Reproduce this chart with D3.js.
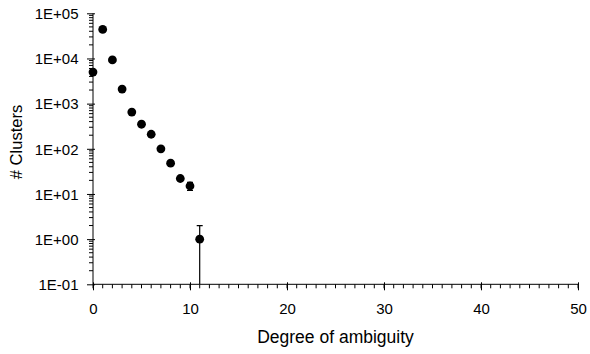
<!DOCTYPE html>
<html>
<head>
<meta charset="utf-8">
<script src="https://cdn.jsdelivr.net/npm/d3@7"></script>
<style>
  html, body { margin: 0; padding: 0; background: #fff; }
  svg { display: block; }
  text { font-family: "Liberation Sans", Arial, sans-serif; fill: #000; }
</style>
</head>
<body>
<svg id="chart" width="590" height="354"></svg>
<script>
// Number of clusters by degree of ambiguity
const degree   = [0, 1, 2, 3, 4, 5, 6, 7, 8, 9, 10, 11];
const clusters = [5000, 44000, 9300, 2100, 650, 350, 210, 100, 48, 22, 15, 1];
const errLow   = [150, 800, 200, 60, 20, 12, 8, 4, 2, 2, 3, 1];
const errHigh  = [150, 800, 200, 60, 20, 12, 8, 4, 2, 2, 3, 1];
const yTickLabels = ["1E-01", "1E+00", "1E+01", "1E+02", "1E+03", "1E+04", "1E+05"];
const xTickValues = [0, 10, 20, 30, 40, 50];

const svg = d3.select("#chart");
const plotL = 93, plotR = 578, plotT = 13.3, plotB = 284.3;

const x = d3.scaleLinear().domain([0, 50]).range([plotL, plotR]);
const y = d3.scaleLog().domain([0.1, 100000]).range([plotB, plotT]);

const g = svg.append("g");

// minor log ticks on the y axis
const minorY = [];
for (let e = -1; e < 5; e++) {
  for (let m = 2; m <= 9; m++) minorY.push(m * Math.pow(10, e));
}
g.selectAll(".ymin").data(minorY).enter().append("line")
  .attr("x1", plotL - 4).attr("x2", plotL)
  .attr("y1", d => y(d)).attr("y2", d => y(d))
  .attr("stroke", "#000").attr("stroke-width", 1);

// minor ticks on the x axis, one per unit
g.selectAll(".xmin").data(d3.range(0, 51)).enter().append("line")
  .attr("x1", d => x(d)).attr("x2", d => x(d))
  .attr("y1", plotB).attr("y2", plotB + 4)
  .attr("stroke", "#000").attr("stroke-width", 1);

// y axis with major decade ticks
const yAxis = d3.axisLeft(y)
  .tickValues(yTickLabels.map(Number))
  .tickFormat((d, i) => yTickLabels[i])
  .tickSize(6).tickPadding(8.5);
const ya = g.append("g").attr("transform", `translate(${plotL},0)`).call(yAxis);
ya.select(".domain").attr("d", `M0,${plotB}V${plotT}`);
ya.selectAll(".tick line").attr("x1", 2).attr("x2", -6);
ya.selectAll("text").style("font-size", "15px").attr("dy", "0.35em");

// x axis
const xAxis = d3.axisBottom(x).tickValues(xTickValues).tickSize(6).tickPadding(13);
const xa = g.append("g").attr("transform", `translate(0,${plotB})`).call(xAxis);
xa.select(".domain").attr("d", `M${plotL},0H${plotR}`);
xa.selectAll(".tick line").attr("y1", -2).attr("y2", 6);
xa.selectAll("text").style("font-size", "15px");

g.selectAll(".domain, .tick line").attr("stroke", "#000").attr("stroke-width", 1);

// error bars, clipped to the plot area
svg.append("clipPath").attr("id", "plotclip")
  .append("rect").attr("x", plotL - 10).attr("y", plotT - 10)
  .attr("width", plotR - plotL + 20).attr("height", plotB - plotT + 10);

const pts = degree.map((d, i) => ({ x: d, y: clusters[i], lo: errLow[i], hi: errHigh[i] }));
const eb = svg.append("g").attr("clip-path", "url(#plotclip)");
const yClamp = v => v <= 0.1 ? y(0.1) : y(v);
eb.selectAll(".err").data(pts).enter().append("line")
  .attr("x1", d => x(d.x)).attr("x2", d => x(d.x))
  .attr("y1", d => yClamp(d.y - d.lo)).attr("y2", d => y(d.y + d.hi))
  .attr("stroke", "#000").attr("stroke-width", 1.2);
eb.selectAll(".capHi").data(pts).enter().append("line")
  .attr("x1", d => x(d.x) - 3).attr("x2", d => x(d.x) + 3)
  .attr("y1", d => y(d.y + d.hi)).attr("y2", d => y(d.y + d.hi))
  .attr("stroke", "#000").attr("stroke-width", 1.2);
eb.selectAll(".capLo").data(pts.filter(d => d.y - d.lo > 0.1)).enter().append("line")
  .attr("x1", d => x(d.x) - 3).attr("x2", d => x(d.x) + 3)
  .attr("y1", d => y(d.y - d.lo)).attr("y2", d => y(d.y - d.lo))
  .attr("stroke", "#000").attr("stroke-width", 1.2);

// markers
svg.append("g").selectAll("circle").data(pts).enter().append("circle")
  .attr("cx", d => x(d.x)).attr("cy", d => y(d.y))
  .attr("r", 4.4).attr("fill", "#000");

// axis titles
svg.append("text")
  .attr("x", (plotL + plotR) / 2).attr("y", 343)
  .attr("text-anchor", "middle").style("font-size", "17.5px")
  .text("Degree of ambiguity");
svg.append("text")
  .attr("transform", `translate(22,142) rotate(-90)`)
  .attr("text-anchor", "middle").style("font-size", "16.5px")
  .text("# Clusters");
</script>
</body>
</html>
